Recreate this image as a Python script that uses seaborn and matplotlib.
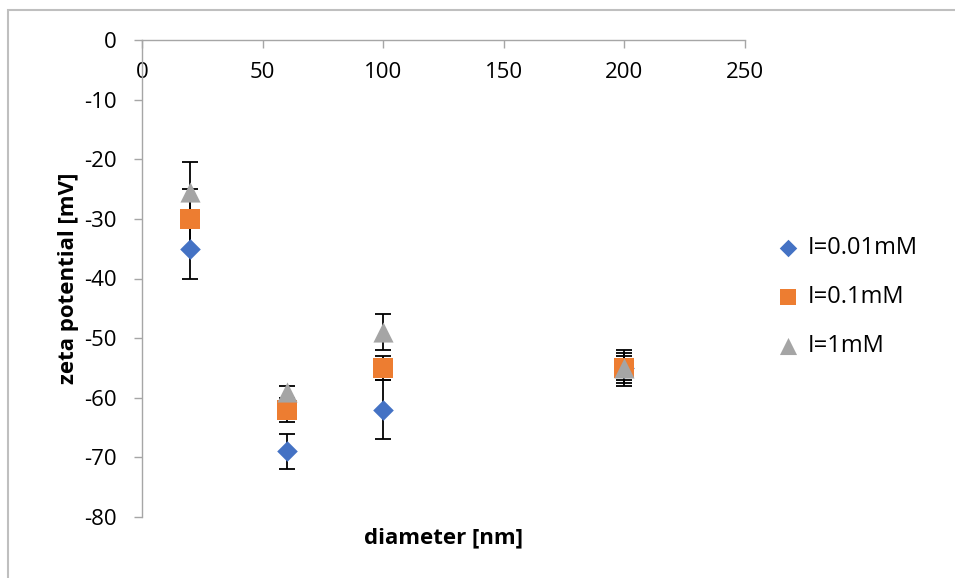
import matplotlib
matplotlib.use("Agg")
import matplotlib.pyplot as plt
import matplotlib.patches as mpatches
import seaborn as sns

# ---- data ----
diameters = [20, 60, 100, 200]

zeta_001 = [-35, -69, -62, -55]
err_001 = [5, 3, 5, 2.5]

zeta_01 = [-30, -62, -55, -55]
err_01 = [5, 2, 2, 2]

zeta_1 = [-25.5, -59, -49, -55]
err_1 = [5, 1, 3, 3]

labels = ["I=0.01mM", "I=0.1mM", "I=1mM"]
colors = ["#4472C4", "#ED7D31", "#A5A5A5"]
markers = ["D", "s", "^"]
sizes = [110, 200, 210]

series = [(zeta_001, err_001), (zeta_01, err_01), (zeta_1, err_1)]

sns.set_style("white")
plt.rcParams['font.family'] = ['Open Sans', 'DejaVu Sans']
plt.rcParams['axes.unicode_minus'] = False
plt.rcParams['text.color'] = 'black'
plt.rcParams['axes.labelcolor'] = 'black'
plt.rcParams['xtick.labelcolor'] = 'black'
plt.rcParams['ytick.labelcolor'] = 'black'

fig = plt.figure(figsize=(9.55, 5.78), dpi=100)
ax = fig.add_axes([142 / 955, 1 - 517 / 578, (745 - 142) / 955, (517 - 40) / 578])

for (vals, errs), lab, col, mk, sz in zip(series, labels, colors, markers, sizes):
    ax.errorbar(diameters, vals, yerr=errs, fmt='none', ecolor='black',
                elinewidth=1.3, capsize=6, capthick=1.3, zorder=2)
    sns.scatterplot(x=diameters, y=vals, marker=mk, s=sz, color=col,
                    linewidth=0, label=lab, ax=ax, zorder=3)

ax.set_xlim(0, 250)
ax.set_ylim(-80, 0)
ax.set_xticks(range(0, 251, 50))
ax.set_yticks(range(-80, 1, 10))

axis_grey = '#A6A6A6'
# x axis sits at y=0 like in Excel
ax.spines['bottom'].set_position(('data', 0))
ax.spines['top'].set_visible(False)
ax.spines['right'].set_visible(False)
for s in ['bottom', 'left']:
    ax.spines[s].set_color(axis_grey)
    ax.spines[s].set_linewidth(1.0)

ax.tick_params(axis='x', direction='out', length=6, width=1, color=axis_grey,
               labelsize=16, pad=10, bottom=True)
ax.tick_params(axis='y', direction='out', length=6, width=1, color=axis_grey,
               labelsize=16, pad=12, left=True)

ax.set_xlabel("")
ax.set_ylabel("zeta potential [mV]", fontsize=16, fontweight='bold', labelpad=4)
fig.text(443 / 955, 1 - 538 / 578, "diameter [nm]", fontsize=16,
         fontweight='bold', ha='center', va='center')

leg = ax.legend(loc='center left', bbox_to_anchor=(764 / 955, 1 - 297 / 578),
                bbox_transform=fig.transFigure, frameon=False, fontsize=17,
                handletextpad=0.25, labelspacing=1.05, handlelength=1.2,
                markerscale=0.85, borderaxespad=0)

# chart area border
fig.patches.append(mpatches.Rectangle((8 / 955, -0.2), 1.2, 1 - 10 / 578 + 0.2,
                                      transform=fig.transFigure, fill=False,
                                      edgecolor='#BFBFBF', linewidth=1.5))

fig.savefig("out.png", dpi=100)
